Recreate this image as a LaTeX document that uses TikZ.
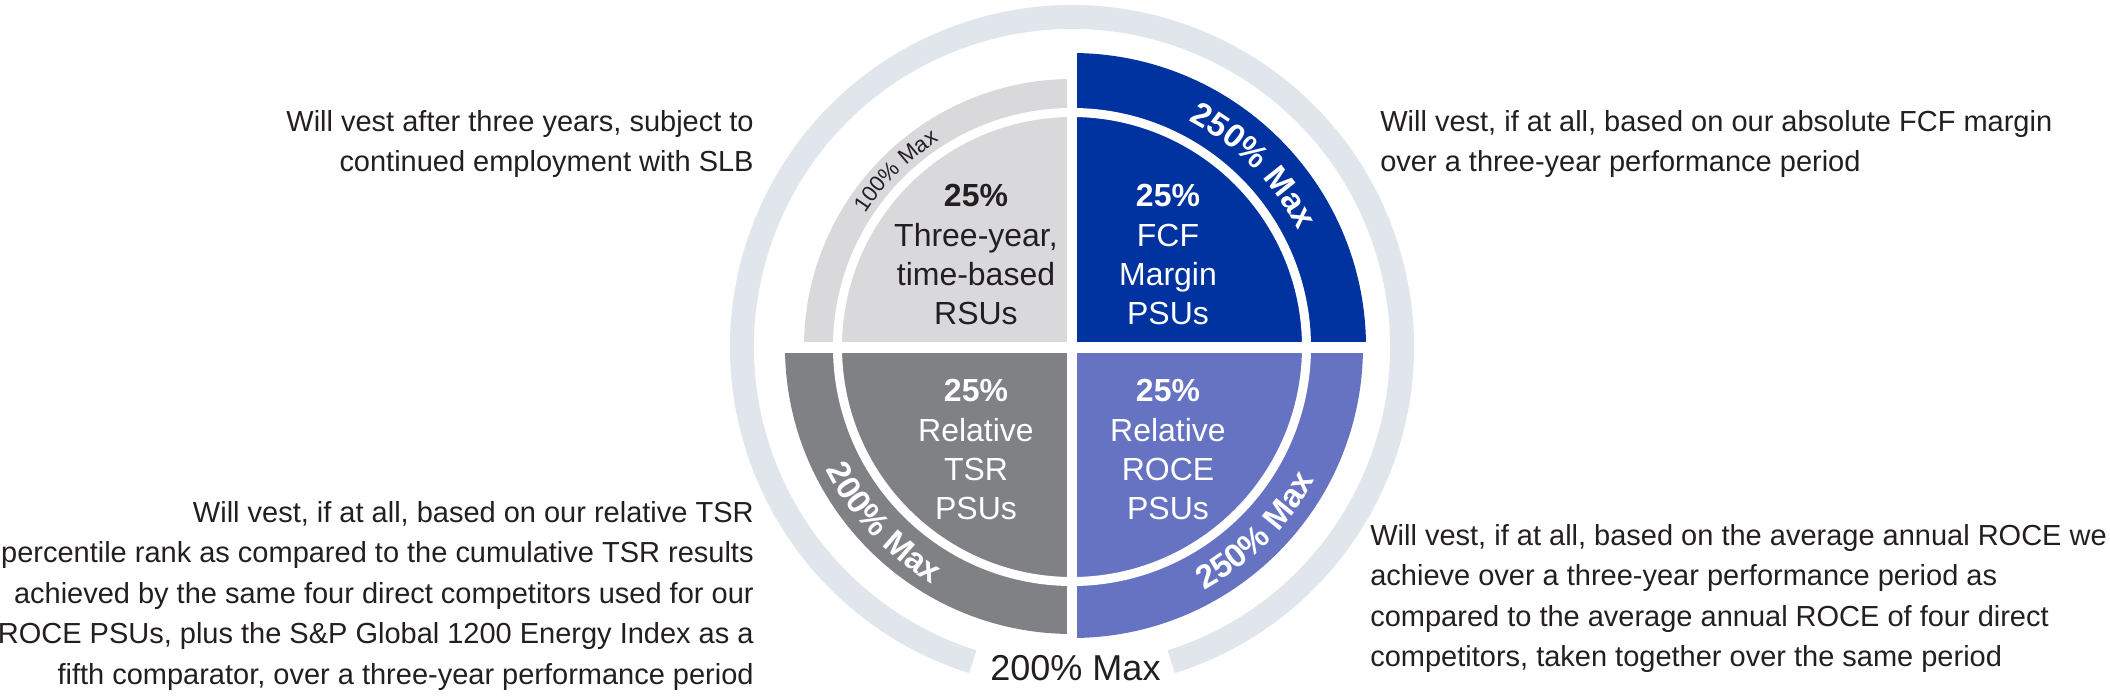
\documentclass[tikz,border=0pt]{standalone}
\usepackage{fontspec}
\setmainfont{Liberation Sans}
\usetikzlibrary{decorations.text}
\definecolor{rsugray}{HTML}{D9D9DB}
\definecolor{fcfblue}{HTML}{0033A0}
\definecolor{tsrgray}{HTML}{808185}
\definecolor{rocelilac}{HTML}{6673C2}
\definecolor{ringgray}{HTML}{E1E6ED}
\definecolor{inkdark}{HTML}{231F20}
\begin{document}
\begin{tikzpicture}[x=0.02cm,y=0.02cm,
  quarter/.style={font=\fontsize{18.2}{22.4}\selectfont,align=center,anchor=north,inner sep=0pt},
  side/.style={font=\fontsize{16.5}{23}\selectfont,text=inkdark,inner sep=0pt},
  maxlabel/.style={decorate,decoration={text along path,text align=center,text={#1}}}]
\useasboundingbox (-1072,-351) rectangle (1038,347);
\draw[ringgray,line width=0.48cm] (-72.5:330) arc[start angle=-72.5,end angle=252.5,radius=330];
\fill[fcfblue] (0,0) -- (0:294) arc[start angle=0,end angle=90,radius=294] -- cycle;
\fill[rsugray] (0,0) -- (90:268) arc[start angle=90,end angle=180,radius=268] -- cycle;
\fill[tsrgray] (0,0) -- (180:287) arc[start angle=180,end angle=270,radius=287] -- cycle;
\fill[rocelilac] (0,0) -- (270:291) arc[start angle=270,end angle=360,radius=291] -- cycle;
\draw[white,line width=0.18cm] (0,0) circle[radius=234.5];
\fill[white] (-5,-300) rectangle (5,300);
\fill[white] (-300,-5.5) rectangle (300,5.5);
\node (rsu) at (-96,163) [quarter,text=inkdark] {{\bfseries 25\%}\\Three-year,\\time-based\\RSUs};
\node (fcf) at (96,163) [quarter,text=white] {{\bfseries 25\%}\\FCF\\Margin\\PSUs};
\node (tsr) at (-96,-32) [quarter,text=white] {{\bfseries 25\%}\\Relative\\TSR\\PSUs};
\node (roce) at (96,-32) [quarter,text=white] {{\bfseries 25\%}\\Relative\\ROCE\\PSUs};
\path[maxlabel={|\color{white}\bfseries\fontsize{18.8}{20}\selectfont|250{\%} Max}] (85:254.7) arc[start angle=85,end angle=5,radius=254.7];
\path[maxlabel={|\color{inkdark}\fontsize{12.6}{14}\selectfont|100{\%} Max}] (175:245.6) arc[start angle=175,end angle=95,radius=245.6];
\path[maxlabel={|\color{white}\bfseries\fontsize{18.8}{20}\selectfont|200{\%} Max}] (183:274.8) arc[start angle=183,end angle=263,radius=274.8];
\path[maxlabel={|\color{white}\bfseries\fontsize{18.8}{20}\selectfont|250{\%} Max}] (-85:276.8) arc[start angle=-85,end angle=-5,radius=276.8];
\node (maxall) at (3.5,-333) [anchor=base,inner sep=0pt,font=\fontsize{20.5}{24}\selectfont,text=inkdark] {200\% Max};
\node (rsunote) at (-318,236.8) [side,anchor=north east,align=right] {Will vest after three years, subject to\\continued employment with SLB};
\node (fcfnote) at (308,236.8) [side,anchor=north west,align=left] {Will vest, if at all, based on our absolute FCF margin\\over a three-year performance period};
\node (tsrnote) at (-318,-154.2) [side,anchor=north east,align=right] {Will vest, if at all, based on our relative TSR\\percentile rank as compared to the cumulative TSR results\\achieved by the same four direct competitors used for our\\ROCE PSUs, plus the S\&P Global 1200 Energy Index as a\\fifth comparator, over a three-year performance period};
\node (rocenote) at (298,-177.2) [side,anchor=north west,align=left] {Will vest, if at all, based on the average annual ROCE we\\achieve over a three-year performance period as\\compared to the average annual ROCE of four direct\\competitors, taken together over the same period};
\end{tikzpicture}
\end{document}
